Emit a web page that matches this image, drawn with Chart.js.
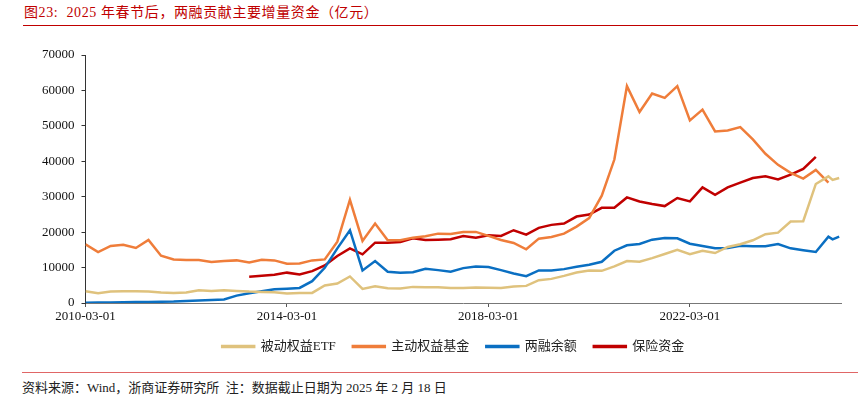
<!DOCTYPE html>
<html lang="zh">
<head>
<meta charset="UTF-8">
<title>两融贡献主要增量资金</title>
<script src="https://cdn.jsdelivr.net/npm/chart.js@4.4.1/dist/chart.umd.min.js"></script>
<style>
  body { margin: 0; width: 858px; height: 406px; background: #fff; position: relative; overflow: hidden;
         font-family: "Liberation Serif", "Noto Sans CJK SC", serif; }
  .title { position: absolute; left: 24px; top: 3px; font-size: 14px; line-height: 20px; letter-spacing: 0.6px; color: #c00000; white-space: pre; }
  .title-rule { position: absolute; left: 23px; right: 0; top: 25px; border-top: 1.5px solid #c00000; }
  .chart-box { position: absolute; left: 0; top: 0; width: 858px; height: 363px; }
  .source-rule { position: absolute; left: 22px; right: 0; top: 372px; border-top: 1px solid #e06666; }
  .source { position: absolute; left: 22px; top: 379px; font-size: 13px; line-height: 18px; color: #222; white-space: pre; }
</style>
</head>
<body>
  <div class="title">图23:  2025 年春节后，两融贡献主要增量资金（亿元）</div>
  <div class="title-rule"></div>
  <div class="chart-box"><canvas id="myChart"></canvas></div>
  <div class="source-rule"></div>
  <div class="source">资料来源：Wind，浙商证券研究所  注：数据截止日期为 2025 年 2 月 18 日</div>

<script>
// quarter ends 2010-03 .. 2024-12, then two extra readings in 2025
const dates = [];
for (let y = 2010; y <= 2024; y++) {
  ['03', '06', '09', '12'].forEach(m => dates.push(y + '-' + m));
}
dates.push('2025-01', '2025-02-18');

const seriesNames = ['被动权益ETF', '主动权益基金', '两融余额', '保险资金'];

const etf = [3320, 2750, 3220, 3320, 3320, 3220, 2940, 2840, 2940, 3600, 3410, 3600, 3410, 3220, 3130, 3030,
  2700, 2840, 2840, 4930, 5500, 7490, 3970, 4740, 4170, 4070, 4550, 4450, 4450, 4260, 4260, 4350,
  4300, 4260, 4640, 4830, 6440, 6810, 7660, 8630, 9190, 9080, 10330, 11830, 11630, 12680, 13820, 15040,
  13750, 14760, 14100, 15810, 16570, 17700, 19410, 19860, 22990, 23100, 33600, 35760, 34730, 35300];

const activeFund = [16570, 14390, 16090, 16460, 15520, 17790, 13340, 12310, 12120, 12120, 11550, 11830, 12030, 11460, 12200, 12030,
  11100, 11180, 12030, 12310, 17310, 29140, 17510, 22420, 17700, 17700, 18450, 18830, 19580, 19490, 20060, 20060,
  18930, 17800, 16940, 15150, 18160, 18640, 19580, 21570, 23950, 30280, 40490, 61210, 53920, 59140, 57890, 61210,
  51560, 54590, 48440, 48720, 49660, 46170, 42110, 38990, 36720, 35100, 37570, 33970];

const margin = [80, 120, 160, 200, 250, 300, 350, 400, 550, 700, 850, 1000, 2080, 2750, 3320, 3890,
  4050, 4260, 6160, 9930, 15430, 20540, 9190, 11830, 8800, 8510, 8710, 9650, 9280, 8800, 9850, 10330,
  10130, 9280, 8340, 7580, 9190, 9190, 9560, 10220, 10780, 11630, 14760, 16290, 16660, 17880, 18360, 18270,
  16740, 16090, 15430, 15520, 16180, 16000, 16000, 16660, 15430, 14870, 14390, 18730, 17980, 18730];

const insurance = [null, null, null, null, null, null, null, null, null, null, null, null, null, 7380, 7660, 7950,
  8570, 8060, 9000, 10610, 13250, 15430, 13730, 17030, 17030, 17220, 18270, 17790, 17880, 17980, 18930, 18450,
  19100, 18930, 20540, 19300, 21200, 22050, 22420, 24400, 24970, 26870, 26870, 29800, 28660, 27920, 27350, 29620,
  28680, 32630, 30560, 32630, 33970, 35290, 35760, 34900, 36240, 37850, 41260, null, null, null];

const xTicks = [0, 48, 96, 144];   // months after 2010-03
const colors = ['#dfc27d', '#ef7d3a', '#0a6fc2', '#c00000'];

// months elapsed since 2010-03-01
function toMonths(d) {
  const p = d.split('-').map(Number);
  const day = p[2] || 1;
  return (p[0] - 2010) * 12 + (p[1] - 3) + (day - 1) / 30;
}

function toPoints(values) {
  return values.map((v, i) => ({ x: toMonths(dates[i]), y: v }));
}

function monthLabel(v) {
  const total = v + 2;
  const y = 2010 + Math.floor(total / 12);
  const m = (total % 12) + 1;
  return y + '-' + String(m).padStart(2, '0') + '-01';
}

const font = { family: '"Liberation Serif", "Noto Sans CJK SC", serif', size: 13 };

// nudge the legend row a little to the left, as in the original
const legendShift = {
  id: 'legendShift',
  afterLayout(chart) {
    chart.legend.left -= 10;
    chart.legend.right -= 10;
  }
};

new Chart('myChart', {
  type: 'line',
  data: {
    datasets: [etf, activeFund, margin, insurance].map((vals, k) => ({
      label: seriesNames[k],
      data: toPoints(vals),
      borderColor: colors[k],
      backgroundColor: colors[k],
      borderWidth: 2.5,
      pointRadius: 0,
      tension: 0,
      spanGaps: false
    }))
  },
  options: {
    responsive: true,
    maintainAspectRatio: false,
    animation: false,
    layout: { padding: { top: 55, right: 17, left: 0, bottom: 0 } },
    plugins: {
      legend: {
        position: 'bottom',
        fullSize: false,
        labels: { boxWidth: 32, boxHeight: 1, padding: 17, color: '#222', font: font }
      },
      tooltip: { enabled: false }
    },
    scales: {
      x: {
        type: 'linear',
        min: 0,
        max: 180,
        afterBuildTicks: s => { s.ticks = xTicks.map(v => ({ value: v })); },
        afterFit: s => { s.height = 20; },
        border: { display: true, color: '#777', width: 1 },
        grid: { display: true, drawOnChartArea: false, drawTicks: true, tickLength: 4, color: '#555' },
        ticks: { autoSkip: false, maxRotation: 0, padding: 2, color: '#111', font: font, callback: v => monthLabel(v) }
      },
      y: {
        min: 0,
        max: 70000,
        afterFit: s => { s.width = 85.5; },
        border: { display: true, color: '#333', width: 1 },
        grid: { display: true, drawOnChartArea: false, drawTicks: true, tickLength: 4, color: '#333' },
        ticks: { stepSize: 10000, padding: 7, color: '#111', font: font, callback: v => String(v) }
      }
    }
  },
  plugins: [legendShift]
});
</script>
</body>
</html>
